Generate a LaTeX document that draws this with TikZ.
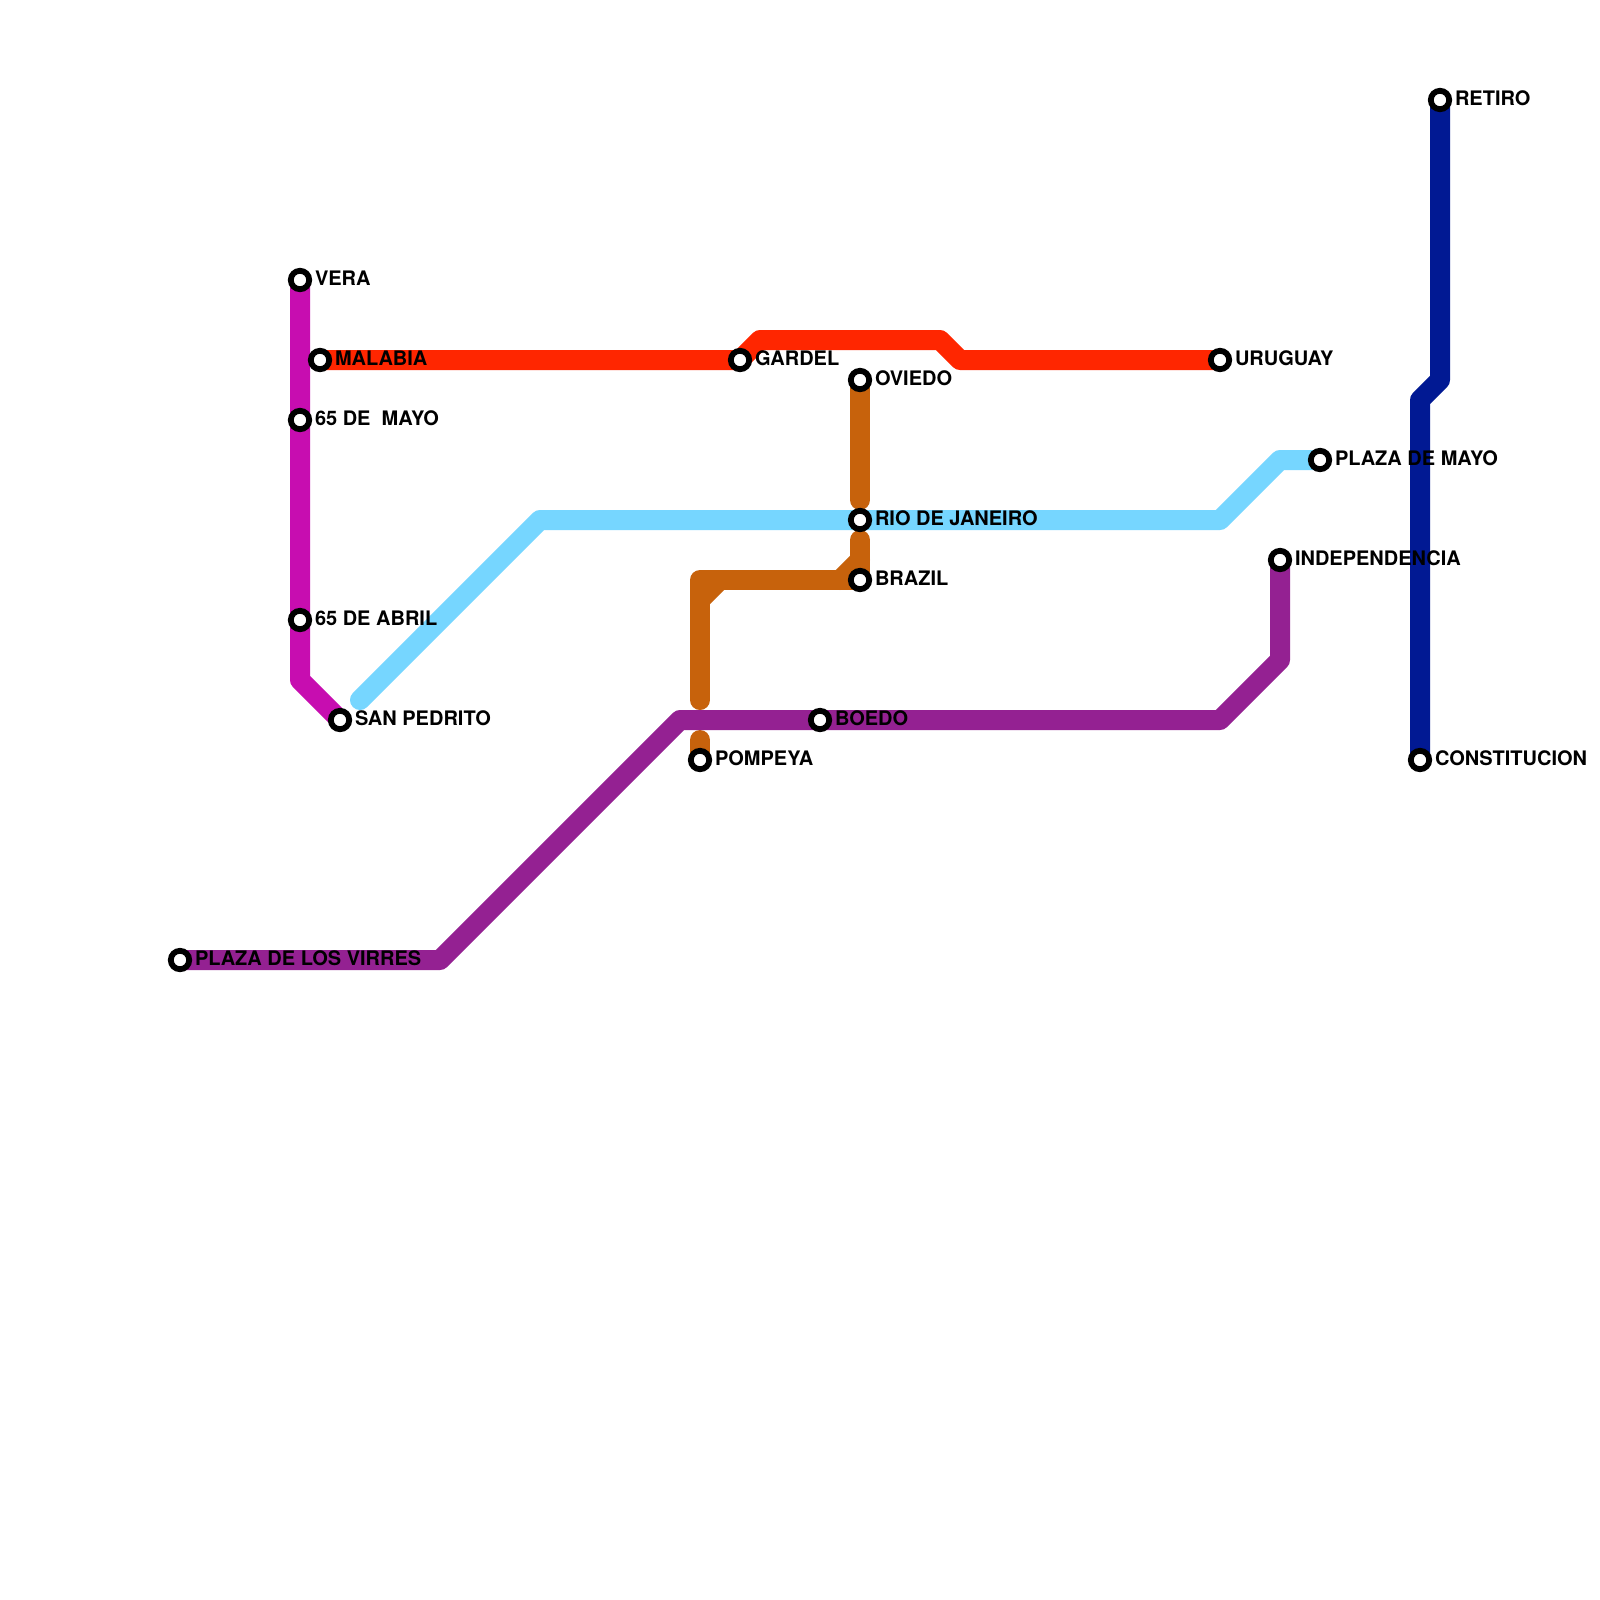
\documentclass[tikz,border=0pt]{standalone}
\usepackage{fontspec}
\setmainfont{TeX Gyre Heros}
\pgfdeclarelayer{lines}
\pgfsetlayers{lines,main}
\definecolor{cred}{HTML}{FF2600}
\definecolor{cmag}{HTML}{C70DB0}
\definecolor{csky}{HTML}{76D6FF}
\definecolor{cbrown}{HTML}{C7620C}
\definecolor{cplum}{HTML}{942192}
\definecolor{cnavy}{HTML}{011993}
\tikzset{
  metroline/.style={line width=20pt,line cap=round,line join=round},
  stationdot/.style={circle,draw=black,fill=white,line width=5.8pt,minimum size=18.4pt,inner sep=0pt,outer sep=0pt},
  stationlabel/.style={anchor=base west,inner sep=0pt,outer sep=0pt,text=black,font=\bfseries\fontsize{20}{22}\selectfont},
}
\begin{document}
\begin{tikzpicture}[x=1pt,y=-1pt]
\useasboundingbox (0,0) rectangle (1600,1600);
% stations
\foreach \n/\x/\y/\t in {
  vera/300/280/VERA, malabia/320/360/MALABIA, mayofive/300/420/65 DE\ \ MAYO,
  abril/300/620/65 DE ABRIL, pedrito/340/720/SAN PEDRITO, gardel/740/360/GARDEL,
  uruguay/1220/360/URUGUAY, oviedo/860/380/OVIEDO, rio/860/520/RIO DE JANEIRO,
  brazil/860/580/BRAZIL, pompeya/700/760/POMPEYA, boedo/820/720/BOEDO,
  plazamayo/1320/460/PLAZA DE MAYO, indep/1280/560/INDEPENDENCIA,
  retiro/1440/100/RETIRO, consti/1420/760/CONSTITUCION, virres/180/960/PLAZA DE LOS VIRRES}{
  \node[stationdot] (\n) at (\x,\y) {};
  \node[stationlabel] (\n-label) at (\x+15,\y+5.2) {\t};
}
% bends
\coordinate (m1) at (300,680);
\coordinate (r1) at (760,340);
\coordinate (r2) at (940,340);
\coordinate (r3) at (960,360);
\coordinate (s0) at (360,700);
\coordinate (s1) at (540,520);
\coordinate (s2) at (1220,520);
\coordinate (s3) at (1280,460);
\coordinate (p1) at (440,960);
\coordinate (p2) at (680,720);
\coordinate (p3) at (1220,720);
\coordinate (p4) at (1280,660);
\coordinate (n1) at (1440,380);
\coordinate (n2) at (1420,400);
\coordinate (b1) at (860,500);
\coordinate (b2) at (860,540);
\coordinate (b3) at (860,560);
\coordinate (b4) at (840,580);
\coordinate (b5) at (700,580);
\coordinate (b6) at (700,700);
\coordinate (b7) at (700,740);
\coordinate (b8) at (700,600);
\coordinate (b9) at (720,580);
\begin{pgfonlayer}{lines}
\fill[white] (0,0) rectangle (1600,1600);
\draw[metroline,cmag] (vera.center) -- (m1) -- (pedrito.center);
\draw[metroline,cred] (malabia.center) -- (gardel.center) -- (r1) -- (r2) -- (r3) -- (uruguay.center);
\draw[metroline,csky] (s0) -- (s1) -- (s2) -- (s3) -- (plazamayo.center);
\draw[metroline,cbrown] (oviedo.center) -- (b1);
\draw[metroline,cbrown] (b2) -- (brazil.center) -- (b5) -- (b6);
\draw[metroline,cbrown] (b3) -- (b4);
\draw[metroline,cbrown] (b8) -- (b9);
\draw[metroline,cbrown] (b7) -- (pompeya.center);
\draw[metroline,cplum] (virres.center) -- (p1) -- (p2) -- (p3) -- (p4) -- (indep.center);
\draw[metroline,cnavy] (retiro.center) -- (n1) -- (n2) -- (consti.center);
\end{pgfonlayer}
\end{tikzpicture}
\end{document}
